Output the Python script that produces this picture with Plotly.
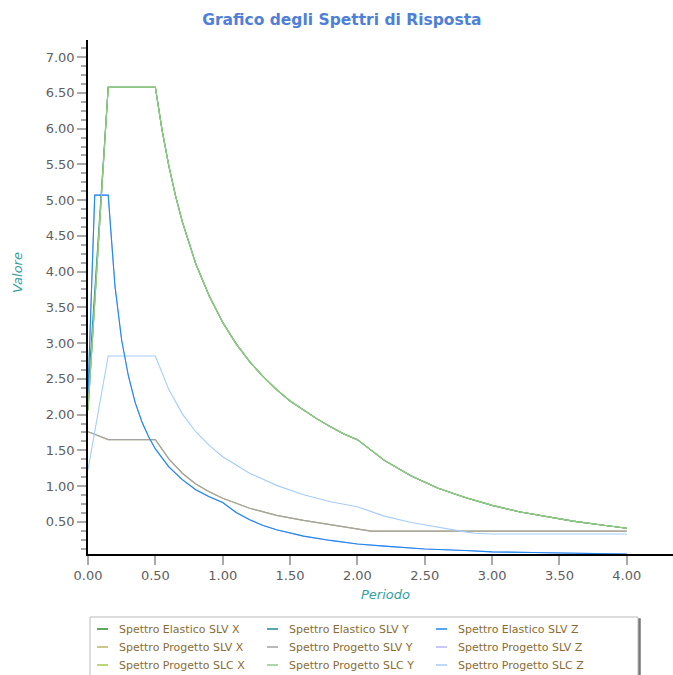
import plotly.graph_objects as go

# ---------------- data ----------------
T_green = [0.0, 0.15, 0.5, 0.55, 0.6, 0.65, 0.7, 0.8, 0.9, 1.0, 1.1, 1.2, 1.3, 1.4, 1.5, 1.6,
           1.7, 1.8, 1.9, 2.0, 2.2, 2.4, 2.6, 2.8, 3.0, 3.2, 3.4, 3.6, 3.8, 4.0]
V_green = [2.06, 6.58, 6.58, 5.98, 5.48, 5.06, 4.70, 4.11, 3.66, 3.29, 2.99, 2.74, 2.53, 2.35,
           2.19, 2.06, 1.94, 1.83, 1.73, 1.65, 1.36, 1.14, 0.97, 0.84, 0.73, 0.64, 0.57, 0.51,
           0.46, 0.41]
V_teal = [2.30, 6.58, 6.58, 5.98, 5.48, 5.06, 4.70, 4.11, 3.66, 3.29, 2.99, 2.74, 2.53, 2.35,
          2.19, 2.06, 1.94, 1.83, 1.73, 1.65, 1.36, 1.14, 0.97, 0.84, 0.73, 0.64, 0.57, 0.51,
          0.46, 0.41]

T_blue = [0.0, 0.05, 0.15, 0.2, 0.25, 0.3, 0.35, 0.4, 0.45, 0.5, 0.6, 0.7, 0.8, 0.9, 1.0, 1.1,
          1.2, 1.3, 1.4, 1.6, 1.8, 2.0, 2.2, 2.5, 2.8, 3.0, 3.3, 3.65, 4.0]
V_blue = [2.30, 5.07, 5.07, 3.80, 3.04, 2.54, 2.17, 1.90, 1.69, 1.52, 1.27, 1.09, 0.95, 0.85,
          0.77, 0.63, 0.53, 0.45, 0.39, 0.30, 0.24, 0.19, 0.16, 0.12, 0.10, 0.08, 0.07, 0.06,
          0.05]

T_gray = [0.0, 0.15, 0.5, 0.6, 0.7, 0.8, 0.9, 1.0, 1.2, 1.4, 1.6, 1.8, 2.0, 2.1, 2.5, 3.0,
          3.5, 4.0]
V_gray = [1.76, 1.65, 1.65, 1.38, 1.18, 1.03, 0.92, 0.83, 0.69, 0.59, 0.52, 0.46, 0.41, 0.37,
          0.37, 0.37, 0.37, 0.37]

T_lblue = [0.0, 0.15, 0.5, 0.6, 0.7, 0.8, 0.9, 1.0, 1.2, 1.4, 1.6, 1.8, 2.0, 2.2, 2.4, 2.6,
           2.8, 2.87, 3.0, 3.5, 4.0]
V_lblue = [1.23, 2.82, 2.82, 2.35, 2.01, 1.76, 1.57, 1.41, 1.18, 1.01, 0.88, 0.78, 0.71, 0.58,
           0.49, 0.42, 0.36, 0.34, 0.33, 0.33, 0.33]

series_names = ["Spettro Elastico SLV X", "Spettro Elastico SLV Y", "Spettro Elastico SLV Z",
                "Spettro Progetto SLV X", "Spettro Progetto SLV Y", "Spettro Progetto SLV Z",
                "Spettro Progetto SLC X", "Spettro Progetto SLC Y", "Spettro Progetto SLC Z"]
series_colors = ["#2e8b2e", "#208c8c", "#1e88f0",
                 "#b8b46a", "#a3a3a3", "#b4b4f8",
                 "#a6c84e", "#8fcb8f", "#a6cdf8"]
series_data = [(T_green, V_green), (T_green, V_teal), (T_blue, V_blue),
               (T_gray, V_gray), (T_gray, V_gray), (T_blue, V_blue),
               (T_green, V_green), (T_green, V_green), (T_lblue, V_lblue)]
draw_order = [0, 1, 6, 3, 5, 4, 8, 2, 7]

x_ticks = [0, 0.5, 1, 1.5, 2, 2.5, 3, 3.5, 4]
y_ticks = [0.5, 1, 1.5, 2, 2.5, 3, 3.5, 4, 4.5, 5, 5.5, 6, 6.5, 7]

# ---------------- figure ----------------
W, H = 673, 675
ML, MR, MT, MB = 88, 0, 40, 121
PW, PH = W - ML - MR, H - MT - MB

def px(x):
    return (x - ML) / PW

def py(y):
    return (H - MB - y) / PH

fig = go.Figure()
for i in draw_order:
    t, v = series_data[i]
    fig.add_trace(go.Scatter(x=t, y=v, mode="lines", name=series_names[i],
                             line=dict(color=series_colors[i], width=1.1),
                             showlegend=False, hoverinfo="x+y+name"))

fig.update_layout(
    width=W, height=H, autosize=False,
    margin=dict(l=ML, r=MR, t=MT, b=MB),
    paper_bgcolor="white", plot_bgcolor="white",
    font=dict(family="DejaVu Sans", size=13, color="#606060"),
    title=dict(text="<b>Grafico degli Spettri di Risposta</b>", x=0.508, xanchor="center",
               y=1 - 20 / H, yanchor="middle",
               font=dict(family="DejaVu Sans", size=15.5, color="#4f7fd8")),
    showlegend=False,
)
fig.update_xaxes(range=[0, 4.343], tickvals=x_ticks, tickformat=".2f",
                 showgrid=False, zeroline=False, showline=True, linecolor="black", linewidth=1.5,
                 ticks="outside", ticklen=9, tickcolor="#aaaaaa", tickwidth=1.5,
                 tickfont=dict(family="DejaVu Sans", size=13, color="#606060"))
fig.update_yaxes(range=[0.05, 7.24], tickvals=y_ticks, tickformat=".2f",
                 showgrid=False, zeroline=False, showline=True, linecolor="black", linewidth=1.5,
                 ticks="outside", ticklen=9, tickcolor="#aaaaaa", tickwidth=1.5,
                 minor=dict(dtick=0.125, tick0=0, ticks="outside", ticklen=5,
                            tickcolor="#aaaaaa", tickwidth=1.5, showgrid=False),
                 tickfont=dict(family="DejaVu Sans", size=13, color="#606060"))

# axis titles
fig.add_annotation(text="<i>Periodo</i>", xref="paper", yref="paper", x=px(385), y=py(594),
                   showarrow=False, font=dict(family="DejaVu Sans", size=13, color="#33a0a0"),
                   xanchor="center", yanchor="middle")
fig.add_annotation(text="<i>Valore</i>", xref="paper", yref="paper", x=px(17), y=py(273),
                   showarrow=False, textangle=-90,
                   font=dict(family="DejaVu Sans", size=13, color="#33a0a0"),
                   xanchor="center", yanchor="middle")

# legend (box with three columns)
box_l, box_r, box_t, box_b = 90, 638, 617, 690
fig.add_shape(type="rect", xref="paper", yref="paper", x0=px(box_l + 2), x1=px(box_r + 2),
              y0=py(box_b), y1=py(box_t + 2), line=dict(color="#777777", width=1.5),
              fillcolor="#777777", layer="above")
fig.add_shape(type="rect", xref="paper", yref="paper", x0=px(box_l), x1=px(box_r),
              y0=py(box_b), y1=py(box_t), line=dict(color="#bbbbbb", width=1),
              fillcolor="white", layer="above")
col_x = [97, 267, 436]
row_y = [629, 647, 665]
for k, name in enumerate(series_names):
    r, c = divmod(k, 3)
    fig.add_shape(type="line", xref="paper", yref="paper",
                  x0=px(col_x[c]), x1=px(col_x[c] + 11), y0=py(row_y[r]), y1=py(row_y[r]),
                  line=dict(color=series_colors[k], width=1.5), layer="above")
    fig.add_annotation(text=name, xref="paper", yref="paper", x=px(col_x[c] + 20), y=py(row_y[r]),
                       showarrow=False, xanchor="left", yanchor="middle",
                       font=dict(family="DejaVu Sans", size=11, color="#8a6d35"))

fig.write_html("out.html", config={"displayModeBar": False},
               post_script="document.body.style.margin='0px';document.body.style.overflow='hidden';")
